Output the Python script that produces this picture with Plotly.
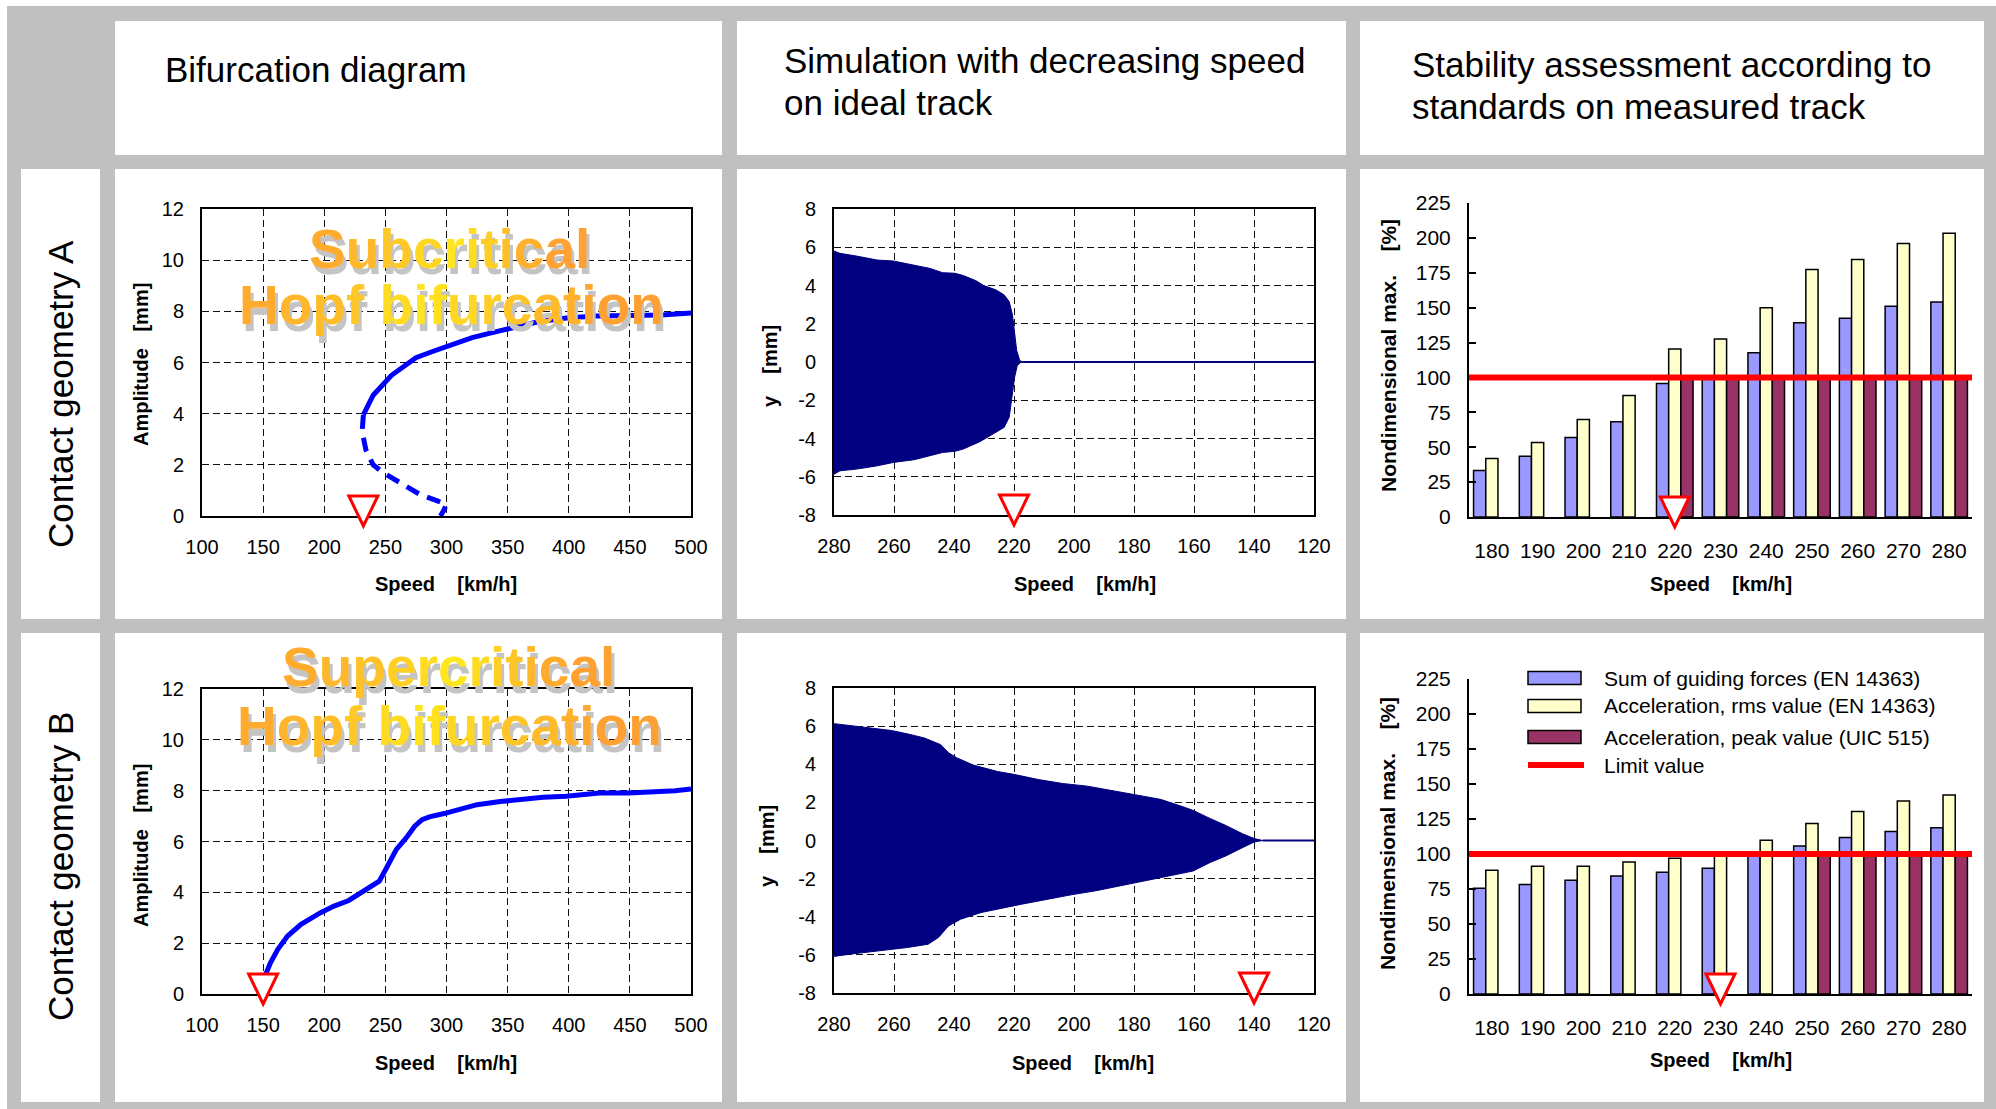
import plotly.graph_objects as go

W, H = 1996, 1109
FONT = "Liberation Sans, Arial, Helvetica, sans-serif"

# ---------------- data ----------------
# Bifurcation diagram, contact geometry A (subcritical)
bifA_stable_speed = [232, 240, 255, 275, 288, 302, 321, 340, 360, 375, 398, 422, 476, 500]
bifA_stable_amp = [3.95, 4.72, 5.5, 6.19, 6.42, 6.66, 6.97, 7.2, 7.43, 7.59, 7.74, 7.82, 7.86, 7.93]
bifA_unstable_speed = [232, 231, 234, 240, 248, 262, 278, 292, 300, 297, 295]
bifA_unstable_amp = [3.95, 3.3, 2.6, 2.0, 1.7, 1.3, 0.85, 0.6, 0.45, 0.15, 0.0]

# Bifurcation diagram, contact geometry B (supercritical)
bifB_speed = [150, 152, 156, 162, 170, 181, 197, 208, 220, 230, 239, 245, 251, 259, 267, 274, 280,
              286, 298, 313, 325, 344, 359, 379, 398, 425, 449, 460, 476, 487, 500]
bifB_amp = [0.4, 0.77, 1.23, 1.76, 2.28, 2.74, 3.2, 3.46, 3.68, 3.98, 4.24, 4.44, 4.97, 5.69, 6.14, 6.6, 6.86,
            6.97, 7.1, 7.31, 7.45, 7.57, 7.65, 7.74, 7.78, 7.91, 7.91, 7.93, 8.0, 8.0, 8.07]

# Simulation with decreasing speed, geometry A: oscillation envelope
simA_upper_speed = [280, 278, 272.5, 265.6, 260.2, 253.3, 247.9, 243.8, 239.7, 236.9, 232.8, 230.1, 226, 223.3,
                    221.6, 220.5, 219.8, 219.1, 218.1, 217.1]
simA_upper = [5.8, 5.68, 5.54, 5.33, 5.28, 5.07, 4.89, 4.67, 4.64, 4.52, 4.26, 4.0, 3.77, 3.51,
              3.16, 2.45, 1.4, 0.6, 0.08, 0.0]
simA_lower_speed = [280, 278, 272.5, 265.6, 260.2, 253.3, 247.9, 243.8, 239.7, 236.9, 231.4, 227.3, 223.3,
                    221.6, 220.5, 219.8, 218.9, 217.8, 217.1]
simA_lower = [-5.87, -5.69, -5.6, -5.43, -5.25, -5.11, -4.9, -4.73, -4.67, -4.55, -4.17, -3.77, -3.42,
              -2.89, -1.67, -0.8, -0.18, -0.03, 0.0]
simA_rest_speed = [217.1, 120]
simA_rest_y = [0, 0]

# Simulation with decreasing speed, geometry B: oscillation envelope
simB_upper_speed = [280, 274.4, 267.6, 260.8, 255.4, 249.9, 244.5, 241.8, 239.1, 233.6, 225.5, 220.1, 211.9,
                    203.8, 195.5, 187.5, 179.3, 171.2, 164.4, 160.3, 154.7, 149.4, 143.9, 139.9, 137.1]
simB_upper = [6.13, 6.03, 5.9, 5.77, 5.59, 5.38, 5.03, 4.6, 4.34, 3.96, 3.62, 3.47, 3.2,
              2.99, 2.85, 2.63, 2.38, 2.16, 1.81, 1.58, 1.16, 0.79, 0.36, 0.1, 0.0]
simB_lower_speed = [280, 274.4, 267.6, 260.8, 255.4, 248.6, 245.2, 241.8, 237.8, 231, 225.5, 217.4, 209.1,
                    201, 192.8, 184.6, 176.5, 168.4, 160.3, 154.7, 149.4, 143.9, 139.9, 137.1]
simB_lower = [-6.08, -5.96, -5.82, -5.7, -5.61, -5.44, -5.09, -4.48, -4.13, -3.78, -3.6, -3.34, -3.08,
              -2.85, -2.64, -2.38, -2.12, -1.86, -1.6, -1.16, -0.81, -0.38, -0.08, 0.0]
simB_rest_speed = [137.1, 120]
simB_rest_y = [0, 0]

# tick labels of the simulation y axis (plain hyphen minus as in the original)
sim_yticks = [-8, -6, -4, -2, 0, 2, 4, 6, 8]
sim_yticklabels = ["-8", "-6", "-4", "-2", "0", "2", "4", "6", "8"]

# Stability assessment (bars), categories = speed; None = no bar shown
speeds = ["180", "190", "200", "210", "220", "230", "240", "250", "260", "270", "280"]
A_guiding = [33.4, 43.6, 57, 68.2, 95.6, 100, 117.7, 139.2, 142.5, 151, 154]
A_rms = [42, 53.4, 69.8, 87, 120.4, 127.5, 150, 177.3, 184.5, 196, 203.3]
A_peak = [None, None, None, None, 100, 100, 100, 100, 100, 100, 100]
B_guiding = [75.5, 78.3, 81.2, 84.3, 86.9, 89.8, 100, 105.8, 111.8, 116, 118.7]
B_rms = [88.4, 91.2, 91.2, 94.3, 96.9, 100, 109.9, 121.8, 130.4, 137.8, 142.1]
B_peak = [None, None, None, None, None, None, None, 100, 100, 100, 100]
limit_value = 100

series_names = ["Sum of guiding forces (EN 14363)", "Acceleration, rms value (EN 14363)",
                "Acceleration, peak value (UIC 515)", "Limit value"]

# Critical speed markers (red triangles)
onset_bifA, onset_simA, onset_barA = 232, 220, "220"
onset_bifB, onset_simB, onset_barB = 150, 140, "230"

# ---------------- styling helpers ----------------
BLUE = "#0000FF"
NAVY = "#000080"
C_GUIDE, C_RMS, C_PEAK = "#9999FF", "#FFFFCC", "#993366"


def px(x):
    return x / W


def py(y):
    return 1 - y / H


fig = go.Figure()

# line charts
fig.add_trace(go.Scatter(x=bifA_stable_speed, y=bifA_stable_amp, mode="lines",
                         line=dict(color=BLUE, width=5), xaxis="x", yaxis="y", showlegend=False))
fig.add_trace(go.Scatter(x=bifA_unstable_speed, y=bifA_unstable_amp, mode="lines",
                         line=dict(color=BLUE, width=5, dash="14px,9px"), xaxis="x", yaxis="y",
                         showlegend=False))
fig.add_trace(go.Scatter(x=bifB_speed, y=bifB_amp, mode="lines",
                         line=dict(color=BLUE, width=5), xaxis="x4", yaxis="y4", showlegend=False))

for (us, u, ls, lo, rs, ry, xa, ya) in [
        (simA_upper_speed, simA_upper, simA_lower_speed, simA_lower, simA_rest_speed, simA_rest_y, "x2", "y2"),
        (simB_upper_speed, simB_upper, simB_lower_speed, simB_lower, simB_rest_speed, simB_rest_y, "x5", "y5")]:
    fig.add_trace(go.Scatter(x=us + ls[::-1], y=u + lo[::-1], mode="lines", fill="toself",
                             fillcolor=NAVY, line=dict(color=NAVY, width=1), xaxis=xa, yaxis=ya,
                             showlegend=False))
    fig.add_trace(go.Scatter(x=rs, y=ry, mode="lines", line=dict(color=NAVY, width=2),
                             xaxis=xa, yaxis=ya, showlegend=False))

# bar charts
for (vals, col, name, xa, ya) in [
        (A_guiding, C_GUIDE, series_names[0], "x3", "y3"),
        (A_rms, C_RMS, series_names[1], "x3", "y3"),
        (A_peak, C_PEAK, series_names[2], "x3", "y3"),
        (B_guiding, C_GUIDE, series_names[0], "x6", "y6"),
        (B_rms, C_RMS, series_names[1], "x6", "y6"),
        (B_peak, C_PEAK, series_names[2], "x6", "y6")]:
    fig.add_trace(go.Bar(x=speeds, y=vals, name=name, marker=dict(color=col, line=dict(color="black", width=1.5)),
                         xaxis=xa, yaxis=ya, showlegend=False))

# ---------------- axes ----------------
line_axis = dict(showline=True, mirror=True, linecolor="black", linewidth=2, showgrid=True,
                 gridcolor="#111111", gridwidth=1, griddash="7px,4px", zeroline=False, ticks="",
                 tickfont=dict(family=FONT, size=20, color="black"), fixedrange=True, automargin=False)
bar_y = dict(showline=True, linecolor="black", linewidth=2, showgrid=False, zeroline=False,
             ticks="inside", ticklen=7, tickwidth=1.5, tickcolor="black", range=[0, 225], dtick=25,
             tickfont=dict(family=FONT, size=21, color="black"), ticklabelstandoff=12, automargin=False)
bar_x = dict(type="category", range=[-0.5, len(speeds) - 0.5], showline=True, linecolor="black", linewidth=2,
             showgrid=False, ticks="", tickfont=dict(family=FONT, size=21, color="black"),
             ticklabelstandoff=14, automargin=False)

col_x = [(202, 691), (834, 1314), (1469, 1972)]
rows_y = {1: (209, 516), 2: (209, 515), 3: (203, 517), 4: (689, 994), 5: (688, 993), 6: (679, 994)}

layout_axes = {}
for i in range(1, 7):
    c = (i - 1) % 3
    x0, x1 = col_x[c]
    yt, yb = rows_y[i]
    sx = "" if i == 1 else str(i)
    if c == 0:
        xd = dict(line_axis, range=[100, 500], dtick=50, tick0=100, ticklabelstandoff=12)
        yd = dict(line_axis, range=[0, 12], dtick=2, ticklabelstandoff=12)
    elif c == 1:
        xd = dict(line_axis, range=[280, 120], dtick=20, tick0=120, ticklabelstandoff=12)
        yd = dict(line_axis, range=[-8, 8], tickmode="array", tickvals=sim_yticks, ticktext=sim_yticklabels,
                  ticklabelstandoff=12)
    else:
        xd = dict(bar_x)
        yd = dict(bar_y)
    xd.update(domain=[px(x0), px(x1)], anchor="y" + sx)
    yd.update(domain=[py(yb), py(yt)], anchor="x" + sx)
    layout_axes["xaxis" + sx] = xd
    layout_axes["yaxis" + sx] = yd

# ---------------- background cells ----------------
shapes = []


def rect(x0, y0, x1, y1, color, layer="below"):
    return dict(type="rect", xref="paper", yref="paper", x0=px(x0), x1=px(x1), y0=py(y1), y1=py(y0),
                fillcolor=color, line=dict(width=0), layer=layer)


shapes.append(rect(7, 6, 1996, 1109, "#C0C0C0"))
cols = [(115, 722), (737, 1346), (1360, 1984)]
for (a, b) in cols:
    shapes.append(rect(a, 21, b, 155, "white"))
    shapes.append(rect(a, 169, b, 619, "white"))
    shapes.append(rect(a, 633, b, 1102, "white"))
shapes.append(rect(21, 169, 100, 619, "white"))
shapes.append(rect(21, 633, 100, 1102, "white"))

# limit lines
for xa, ya in [("x3", "y3"), ("x6", "y6")]:
    shapes.append(dict(type="line", xref=xa + " domain", yref=ya, x0=0, x1=1, y0=limit_value, y1=limit_value,
                       line=dict(color="#FF0000", width=6), layer="above"))


# red triangles (anchored on the x axis, at the bottom of the plot area; not clipped vertically)
def tri(xa, ya, xv):
    return dict(type="path", xref=xa, yref=ya + " domain", xsizemode="pixel", ysizemode="pixel",
                xanchor=xv, yanchor=0, path="M-14.5,20 L14.5,20 L0,-10 Z",
                line=dict(color="#FF0000", width=3), fillcolor="white", layer="above")


shapes += [tri("x", "y", onset_bifA), tri("x2", "y2", onset_simA),
           tri("x3", "y3", speeds.index(onset_barA)),
           tri("x4", "y4", onset_bifB), tri("x5", "y5", onset_simB),
           tri("x6", "y6", speeds.index(onset_barB))]

# manual legend (bottom right)
leg_rows = [678, 706, 737, 765]
for yy, col in zip(leg_rows[:3], [C_GUIDE, C_RMS, C_PEAK]):
    shapes.append(dict(type="rect", xref="paper", yref="paper", x0=px(1528), x1=px(1581),
                       y0=py(yy + 6.5), y1=py(yy - 6.5), fillcolor=col,
                       line=dict(color="black", width=1.5), layer="above"))
shapes.append(dict(type="line", xref="paper", yref="paper", x0=px(1528), x1=px(1584), y0=py(leg_rows[3]),
                   y1=py(leg_rows[3]), line=dict(color="#FF0000", width=6), layer="above"))

# ---------------- annotations ----------------
ann = []


def text(x, y, s, size, bold=False, xanchor="center", angle=0, color="black"):
    ann.append(dict(x=px(x), y=py(y), xref="paper", yref="paper", text=("<b>%s</b>" % s) if bold else s,
                    showarrow=False, xanchor=xanchor, yanchor="middle", textangle=angle,
                    font=dict(family=FONT, size=size, color=color)))


NB = "\u00a0"
# headers
text(163, 69, "Bifurcation diagram", 35, xanchor="left")
text(782, 60, "Simulation with decreasing speed", 35, xanchor="left")
text(782, 102, "on ideal track", 35, xanchor="left")
text(1410, 65, "Stability assessment according to", 35, xanchor="left")
text(1410, 106, "standards on measured track", 35, xanchor="left")
# row labels
text(60, 394, "Contact geometry A", 35, angle=-90)
text(60, 867, "Contact geometry B", 35, angle=-90)
# axis titles
speed_title = "Speed" + NB * 4 + "[km/h]"
for (x, y) in [(446, 584), (1085, 584), (1721, 584), (446, 1063), (1083, 1063), (1721, 1060)]:
    text(x, y, speed_title, 20, bold=True)
amp_title = "Amplitude" + NB * 3 + "[mm]"
text(141, 365, amp_title, 20, bold=True, angle=-90)
text(141, 846, amp_title, 20, bold=True, angle=-90)
y_title = "y" + NB * 4 + "[mm]"
text(770, 366, y_title, 20, bold=True, angle=-90)
text(767, 846, y_title, 20, bold=True, angle=-90)
nd_title = "Nondimensional max." + NB * 4 + "[%]"
text(1388, 356, nd_title, 21, bold=True, angle=-90)
text(1387, 834, nd_title, 21, bold=True, angle=-90)
# legend labels
for yy, s in zip(leg_rows, series_names):
    text(1602, yy, s, 21, xanchor="left")


# WordArt-like captions
def wordart(s):
    n = len(s)
    out = []
    for i, ch in enumerate(s):
        t = i / max(n - 1, 1)
        w = max(0.0, 1 - abs(t - 0.42) / 0.5)
        r = 255
        g = int(160 + (232 - 160) * w)
        b = int(50 + (30 - 50) * w)
        out.append("<span style='color:rgb(%d,%d,%d)'>%s</span>" % (r, g, b, ch))
    return "".join(out)


def caption(x, y, s):
    ann.append(dict(x=px(x + 3), y=py(y + 7), xref="paper", yref="paper", text="<b>%s</b>" % s,
                    showarrow=False, xanchor="center", yanchor="middle",
                    font=dict(family=FONT, size=55, color="#C4C4C4")))
    ann.append(dict(x=px(x), y=py(y), xref="paper", yref="paper", text="<b>%s</b>" % wordart(s),
                    showarrow=False, xanchor="center", yanchor="middle",
                    font=dict(family=FONT, size=55, color="#FFB030")))


caption(449.5, 248.5, "Subcritical")
caption(451, 304.5, "Hopf bifurcation")
caption(448.5, 666.5, "Supercritical")
caption(449, 725.5, "Hopf bifurcation")

fig.update_layout(
    width=W, height=H, margin=dict(l=0, r=0, t=0, b=0, pad=0, autoexpand=False),
    paper_bgcolor="white", plot_bgcolor="rgba(0,0,0,0)",
    barmode="group", bargap=0.2, bargroupgap=0,
    shapes=shapes, annotations=ann, showlegend=False,
    font=dict(family=FONT, color="black"),
    **layout_axes,
)

fig.write_html("out.html", config={"displayModeBar": False})
